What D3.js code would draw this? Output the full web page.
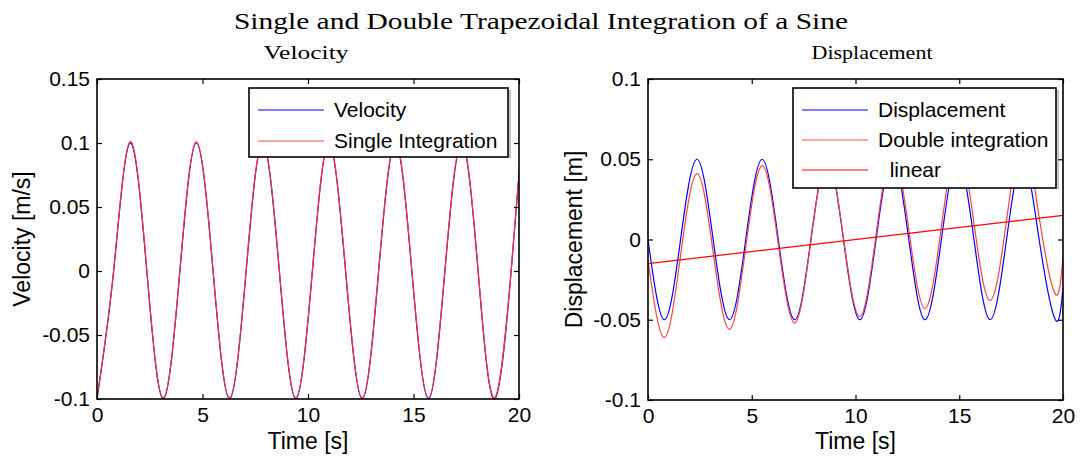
<!DOCTYPE html>
<html>
<head>
<meta charset="utf-8">
<script src="https://cdn.jsdelivr.net/npm/d3@7"></script>
<style>
  body { margin: 0; background: #fff; }
  svg { display: block; }
</style>
</head>
<body>
<svg id="chart"></svg>
<script>
// sample times (quarter periods of the sine)
const timeQ = [0, 0.79, 1.57, 2.36, 3.14, 3.93, 4.71, 5.50, 6.28, 7.07, 7.85, 8.64, 9.42,
  10.21, 10.99, 11.78, 12.57, 13.35, 14.14, 14.92, 15.71, 16.49, 17.28, 18.06, 18.85, 19.63, 20];

const velocity = [-0.1, 0, 0.1, 0, -0.1, 0, 0.1, 0, -0.1, 0, 0.1, 0, -0.1, 0, 0.1, 0,
  -0.1, 0, 0.1, 0, -0.1, 0, 0.1, 0, -0.1, 0, 0.075];
const singleIntegration = [-0.099, 0.001, 0.101, 0.001, -0.099, 0.001, 0.101, 0.001, -0.099, 0.001,
  0.101, 0.001, -0.099, 0.001, 0.101, 0.001, -0.099, 0.001, 0.101, 0.001, -0.099, 0.001, 0.101,
  0.001, -0.099, 0.001, 0.076];

const displacement = [0, -0.05, 0, 0.05, 0, -0.05, 0, 0.05, 0, -0.05, 0, 0.05, 0, -0.05, 0, 0.05,
  0, -0.05, 0, 0.05, 0, -0.05, 0, 0.05, 0, -0.05, -0.03];
const doubleIntegration = [-0.013, -0.061, -0.010, 0.041, -0.008, -0.056, -0.005, 0.046, -0.003,
  -0.052, -0.001, 0.050, 0.001, -0.048, 0.003, 0.054, 0.006, -0.043, 0.008, 0.059, 0.010, -0.038,
  0.012, 0.063, 0.014, -0.034, -0.011];

const linearTime = [0, 20];
const linearFit = [-0.015, 0.015];

const xTicks = [0, 5, 10, 15, 20];
const velTicks = [-0.1, -0.05, 0, 0.05, 0.1, 0.15];
const dispTicks = [-0.1, -0.05, 0, 0.05, 0.1];

const width = 1083;
const height = 461;
const SANS = 'Liberation Sans, Arial, sans-serif';
const SERIF = 'Liberation Serif, Times New Roman, serif';

const svg = d3.select('#chart')
  .attr('width', width)
  .attr('height', height);

svg.append('text')
  .attr('x', 541)
  .attr('y', 29)
  .attr('text-anchor', 'middle')
  .attr('font-family', SERIF)
  .attr('font-size', 23)
  .attr('textLength', 614)
  .attr('lengthAdjust', 'spacingAndGlyphs')
  .text('Single and Double Trapezoidal Integration of a Sine');

const drawPanel = (p, idx) => {
  const x = d3.scaleLinear().domain([0, 20]).range([p.left, p.right]);
  const y = d3.scaleLinear().domain(p.yDomain).range([p.bottom, p.top]);
  const g = svg.append('g');

  g.append('clipPath')
    .attr('id', 'clip' + idx)
    .append('rect')
    .attr('x', p.left)
    .attr('y', p.top)
    .attr('width', p.right - p.left)
    .attr('height', p.bottom - p.top);

  // subtitle
  g.append('text')
    .attr('x', p.subX)
    .attr('y', 59)
    .attr('text-anchor', 'middle')
    .attr('font-family', SERIF)
    .attr('font-size', 19)
    .attr('textLength', p.subLen)
    .attr('lengthAdjust', 'spacingAndGlyphs')
    .text(p.subtitle);

  // series
  const plot = g.append('g').attr('clip-path', `url(#clip${idx})`);
  p.series.forEach(s => {
    const line = d3.line()
      .x((d, i) => x(s.t[i]))
      .y(d => y(d))
      .curve(s.curve || d3.curveNatural);
    plot.append('path')
      .datum(s.values)
      .attr('d', line)
      .attr('fill', 'none')
      .attr('stroke', s.color)
      .attr('stroke-width', 1.2);
  });

  // axes with inward ticks on all sides
  const styleAxis = sel => {
    sel.select('.domain').remove();
    sel.selectAll('.tick line').attr('stroke', '#000').attr('stroke-width', 1.2);
    sel.selectAll('.tick text')
      .attr('fill', '#000')
      .attr('font-family', SANS)
      .attr('font-size', 21);
  };

  g.append('g')
    .attr('transform', `translate(0,${p.bottom})`)
    .call(d3.axisBottom(x).tickValues(xTicks).tickSize(-5).tickPadding(8).tickFormat(d => String(d)))
    .call(styleAxis);
  g.append('g')
    .attr('transform', `translate(0,${p.top})`)
    .call(d3.axisTop(x).tickValues(xTicks).tickSize(-5).tickFormat(''))
    .call(styleAxis);
  g.append('g')
    .attr('transform', `translate(${p.left},0)`)
    .call(d3.axisLeft(y).tickValues(p.yTicks).tickSize(-5).tickPadding(7).tickFormat(d => String(+d.toFixed(2))))
    .call(styleAxis);
  g.append('g')
    .attr('transform', `translate(${p.right},0)`)
    .call(d3.axisRight(y).tickValues(p.yTicks).tickSize(-5).tickFormat(''))
    .call(styleAxis);

  g.append('rect')
    .attr('x', p.left)
    .attr('y', p.top)
    .attr('width', p.right - p.left)
    .attr('height', p.bottom - p.top)
    .attr('fill', 'none')
    .attr('stroke', '#000')
    .attr('stroke-width', 1.6);

  // axis labels
  g.append('text')
    .attr('x', (p.left + p.right) / 2)
    .attr('y', 449)
    .attr('text-anchor', 'middle')
    .attr('font-family', SANS)
    .attr('font-size', 23)
    .text('Time [s]');
  g.append('text')
    .attr('transform', `translate(${p.yLabelX},${(p.top + p.bottom) / 2}) rotate(-90)`)
    .attr('text-anchor', 'middle')
    .attr('font-family', SANS)
    .attr('font-size', 23)
    .text(p.yLabel);

  // legend
  const lg = g.append('g');
  lg.append('rect')
    .attr('x', p.legend.x)
    .attr('y', p.legend.y)
    .attr('width', p.legend.w)
    .attr('height', p.legend.h)
    .attr('fill', '#fff')
    .attr('stroke', '#000')
    .attr('stroke-width', 1.6);
  lg.append('line')
    .attr('x1', p.legend.x + p.legend.w + 2)
    .attr('x2', p.legend.x + p.legend.w + 2)
    .attr('y1', p.legend.y + 2)
    .attr('y2', p.legend.y + p.legend.h + 1)
    .attr('stroke', '#888')
    .attr('stroke-width', 1);
  p.legend.items.forEach((it, i) => {
    const ry = p.legend.rows[i];
    lg.append('line')
      .attr('x1', p.legend.x + 9)
      .attr('x2', p.legend.x + 75)
      .attr('y1', ry)
      .attr('y2', ry)
      .attr('stroke', it.color)
      .attr('stroke-width', 1.2);
    lg.append('text')
      .attr('x', p.legend.x + 85)
      .attr('y', ry)
      .attr('dy', '0.35em')
      .attr('font-family', SANS)
      .attr('font-size', 21)
      .style('white-space', 'pre')
      .text(it.label);
  });
};

drawPanel({
  left: 97, right: 519, top: 79, bottom: 399,
  yDomain: [-0.1, 0.15], yTicks: velTicks,
  subtitle: 'Velocity', subX: 306, subLen: 85,
  yLabel: 'Velocity [m/s]', yLabelX: 30,
  series: [
    { t: timeQ, values: velocity, color: '#0000ff' },
    { t: timeQ, values: singleIntegration, color: '#ff3030' }
  ],
  legend: {
    x: 249, y: 88, w: 259, h: 69, rows: [110, 141],
    items: [
      { label: 'Velocity', color: '#0000ff' },
      { label: 'Single Integration', color: '#ff5050' }
    ]
  }
}, 0);

drawPanel({
  left: 648, right: 1063, top: 79, bottom: 400,
  yDomain: [-0.1, 0.1], yTicks: dispTicks,
  subtitle: 'Displacement', subX: 872, subLen: 121,
  yLabel: 'Displacement [m]', yLabelX: 582,
  series: [
    { t: timeQ, values: displacement, color: '#0000ff' },
    { t: timeQ, values: doubleIntegration, color: '#ff4040' },
    { t: linearTime, values: linearFit, color: '#ff0000', curve: d3.curveLinear }
  ],
  legend: {
    x: 793, y: 88, w: 263, h: 100, rows: [110, 140, 170],
    items: [
      { label: 'Displacement', color: '#0000ff' },
      { label: 'Double integration', color: '#ff5050' },
      { label: '  linear', color: '#ff0000' }
    ]
  }
}, 1);
</script>
</body>
</html>
